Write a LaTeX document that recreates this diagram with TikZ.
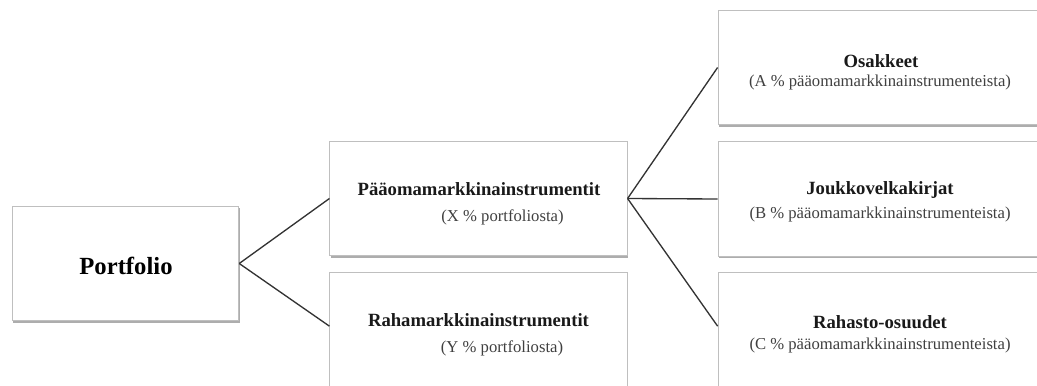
\documentclass[tikz,border=0pt]{standalone}
\usepackage{fontspec}
\setmainfont{Liberation Serif}
\usetikzlibrary{shadows}

\tikzset{
  box/.style={rectangle, draw=gray!50, fill=white, line width=0.6pt,
    drop shadow={shadow xshift=0.8pt, shadow yshift=-1.5pt, fill=gray!75, opacity=0.85}},
  ttl/.style={font=\bfseries\fontsize{14}{16}\selectfont, text=black!90, inner sep=0pt},
  sub/.style={font=\fontsize{12.5}{14}\selectfont, text=black!75, inner sep=0pt},
  link/.style={draw=black!80, line width=1pt}
}

\begin{document}
\begin{tikzpicture}[x=0.75pt, y=-0.75pt]

\useasboundingbox (0,0) rectangle (1037,385);
\clip (0,0) rectangle (1037,385);

% Level 0
\node[box, minimum width=170pt, minimum height=86pt] (n0) at (125.5,263.5) {};
\node[font=\bfseries\fontsize{18.5}{20}\selectfont, inner sep=0pt] (t0) at (126,266) {Portfolio};

% Level 1
\node[box, minimum width=223pt, minimum height=86pt] (n1) at (478.5,198.5) {};
\node[box, minimum width=223pt, minimum height=88pt] (n2) at (478.5,331.5) {};
\node[ttl] (t1) at (479,189) {Pääomamarkkinainstrumentit};
\node[sub] (s1) at (502.5,217) {(X \% portfoliosta)};
\node[ttl] (t2) at (478.5,320) {Rahamarkkinainstrumentit};
\node[sub] (s2) at (502,348) {(Y \% portfoliosta)};

% Level 2
\node[box, minimum width=243pt, minimum height=86pt] (n3) at (880,67.5) {};
\node[box, minimum width=243pt, minimum height=86pt] (n4) at (880,199) {};
\node[box, minimum width=243pt, minimum height=88pt] (n5) at (880,331.5) {};
\node[ttl] (t3) at (881,61) {Osakkeet};
\node[sub] (s3) at (880,82) {(A \% pääomamarkkinainstrumenteista)};
\node[ttl] (t4) at (880,190) {Joukkovelkakirjat};
\node[sub] (s4) at (880,214) {(B \% pääomamarkkinainstrumenteista)};
\node[ttl] (t5) at (880,322) {Rahasto-osuudet};
\node[sub] (s5) at (880,345) {(C \% pääomamarkkinainstrumenteista)};

% Edges
\draw[link] (n0.east) -- (n1.west);
\draw[link] (n0.east) -- ([yshift=4pt]n2.west);
\draw[link] (n1.east) -- (n3.west);
\draw[link] (n1.east) -- (n4.west);
\draw[link] (n1.east) -- ([yshift=4pt]n5.west);

\end{tikzpicture}
\end{document}
